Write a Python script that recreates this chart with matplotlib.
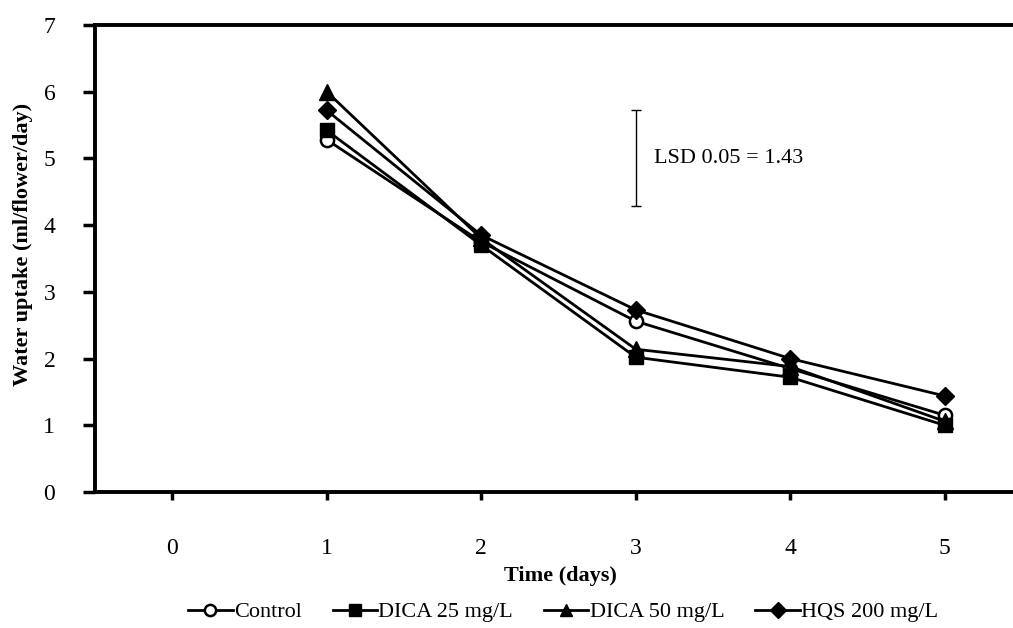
import matplotlib
matplotlib.use("Agg")
import matplotlib.pyplot as plt
from matplotlib.lines import Line2D

plt.rcParams['font.family'] = ['Liberation Serif', 'DejaVu Serif']

days = [1, 2, 3, 4, 5]
control = [5.28, 3.75, 2.56, 1.85, 1.15]
dica25 = [5.42, 3.70, 2.02, 1.72, 1.00]
dica50 = [6.00, 3.80, 2.14, 1.88, 1.06]
hqs200 = [5.72, 3.85, 2.73, 2.00, 1.44]
series_labels = ["Control", "DICA 25 mg/L", "DICA 50 mg/L", "HQS 200 mg/L"]
x_ticks = [0, 1, 2, 3, 4, 5]
y_ticks = [0, 1, 2, 3, 4, 5, 6, 7]
lsd_value = 1.43
lsd_low = 4.29
lsd_x = 3.0

fig = plt.figure(figsize=(10.13, 6.28), dpi=100)
ax = fig.add_axes([95/1013, 1-492/628, (1022-95)/1013, (492-25)/628])

styles = [
    dict(marker='o', markerfacecolor='white', markeredgecolor='black', markeredgewidth=1.8),
    dict(marker='s', markerfacecolor='black', markeredgecolor='black'),
    dict(marker='^', markerfacecolor='black', markeredgecolor='black'),
    dict(marker='D', markerfacecolor='black', markeredgecolor='black'),
]
sizes = [9.5, 10.5, 11, 9.5]
data = [control, dica25, dica50, hqs200]
handles = []
for vals, st, ms, lab in zip(data, styles, sizes, series_labels):
    ax.plot(days, vals, color='black', lw=2, markersize=ms, **st, zorder=3)
    handles.append(Line2D([], [], color='black', lw=2, markersize=ms*0.85, label=lab, **st))

# LSD bar
ax.errorbar([lsd_x], [lsd_low + lsd_value/2], yerr=[lsd_value/2], fmt='none',
            ecolor='black', elinewidth=1.0, capsize=3.8, capthick=1.0)
ax.text(lsd_x + 0.12, lsd_low + lsd_value/2, "LSD 0.05 = %.2f" % lsd_value,
        fontsize=16, va='center', ha='left')

ax.set_xlim(-0.5, 5.5)
ax.set_ylim(0, 7)
ax.set_xticks(x_ticks)
ax.set_yticks(y_ticks)
ax.tick_params(axis='y', direction='out', length=8.6, width=2.5, labelsize=17, pad=20)
ax.tick_params(axis='x', direction='out', length=6, width=2.5, labelsize=17, pad=27)
for s in ['left', 'bottom', 'top']:
    ax.spines[s].set_linewidth(2.8)
ax.spines['right'].set_visible(False)

fig.text(23/1013, 1-244/628, "Water uptake (ml/flower/day)", fontsize=16, fontweight='bold',
         rotation=90, ha='center', va='center')
fig.text(560/1013, 1-576/628, "Time (days)", fontsize=16, fontweight='bold', ha='center', va='center')

fig.legend(handles=handles, loc='center', bbox_to_anchor=(563/1013, 1-612/628), ncol=4,
           frameon=False, fontsize=16, handlelength=2.0, handletextpad=0.05, columnspacing=1.4,
           borderpad=0, borderaxespad=0)

fig.savefig("out.png", dpi=100)
